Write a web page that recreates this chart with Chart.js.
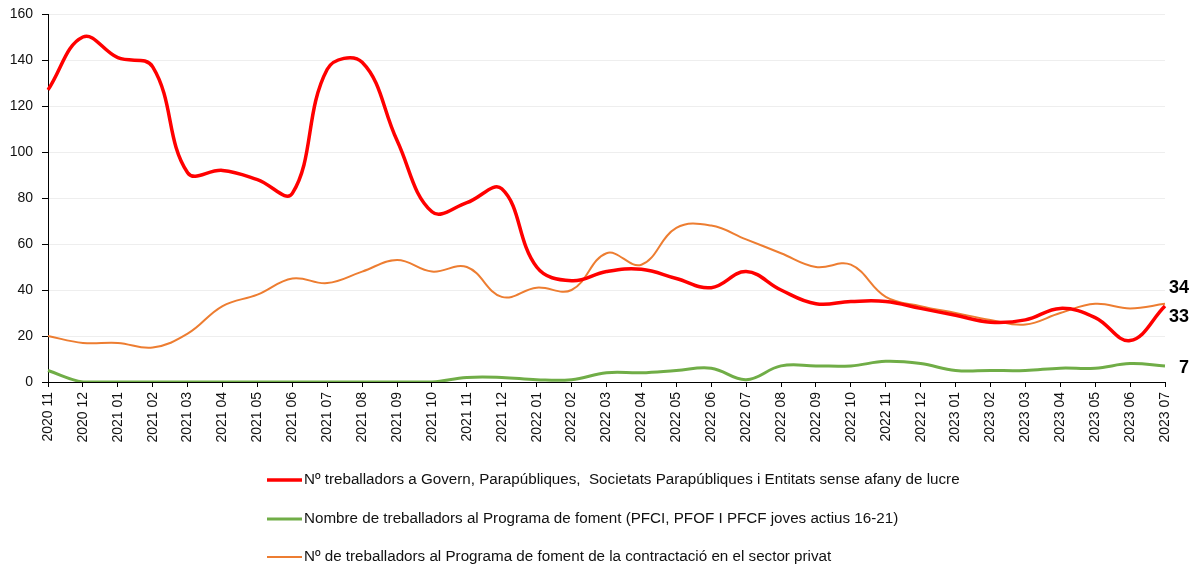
<!DOCTYPE html>
<html><head><meta charset="utf-8">
<script src="https://cdn.jsdelivr.net/npm/chart.js@4/dist/chart.umd.min.js"></script>
<style>html,body{margin:0;padding:0;background:#fff;}#wrap{width:1202px;height:567px;position:relative;}</style>
</head><body><div id="wrap"><canvas id="c" width="1202" height="567"></canvas></div>
<script>
const categories = ["2020 11","2020 12","2021 01","2021 02","2021 03","2021 04","2021 05","2021 06","2021 07","2021 08","2021 09","2021 10","2021 11","2021 12","2022 01","2022 02","2022 03","2022 04","2022 05","2022 06","2022 07","2022 08","2022 09","2022 10","2022 11","2022 12","2023 01","2023 02","2023 03","2023 04","2023 05","2023 06","2023 07"];
const govern = [127,150,141,137,91,92,88,82,136,139,105,74,78,84,50,44,48,49,45,41,48,40,34,35,35,32,29,26,27,32,28,18,33];
const joves = [5,0,0,0,0,0,0,0,0,0,0,0,2,2,1,1,4,4,5,6,1,7,7,7,9,8,5,5,5,6,6,8,7];
const privat = [20,17,17,15,21,33,38,45,43,48,53,48,50,37,41,40,56,51,67,68,62,56,50,51,37,33,30,27,25,30,34,32,34];
const seriesLabels = ["Nº treballadors a Govern, Parapúbliques,  Societats Parapúbliques i Entitats sense afany de lucre","Nombre de treballadors al Programa de foment (PFCI, PFOF I PFCF joves actius 16-21)","Nº de treballadors al Programa de foment de la contractació en el sector privat"];
const yTicks = [0,20,40,60,80,100,120,140,160];

const FONT = "'Liberation Sans', Arial, sans-serif";

const endLabels = {
  id:'endLabels',
  afterDatasetsDraw(chart){
    const ctx = chart.ctx;
    const offs = [11, 2, -16];
    ctx.save();
    ctx.font = "bold 18px " + FONT;
    ctx.fillStyle = "#000";
    ctx.textAlign = "right";
    ctx.textBaseline = "middle";
    chart.data.datasets.forEach((ds,i)=>{
      const meta = chart.getDatasetMeta(i);
      const pt = meta.data[meta.data.length-1];
      const v = ds.data[ds.data.length-1];
      ctx.fillText(String(v), pt.x + 24, pt.y + offs[i]);
    });
    ctx.restore();
  }
};

const customLegend = {
  id:'customLegend',
  afterDraw(chart){
    const ctx = chart.ctx;
    const ys = [480, 519, 557];
    ctx.save();
    ctx.font = "15.2px " + FONT;
    ctx.textBaseline = "middle";
    ctx.textAlign = "left";
    chart.data.datasets.forEach((ds,k)=>{
      ctx.strokeStyle = ds.borderColor;
      ctx.lineWidth = ds.borderWidth;
      ctx.beginPath();
      ctx.moveTo(267, ys[k]);
      ctx.lineTo(302, ys[k]);
      ctx.stroke();
      ctx.fillStyle = "#111";
      ctx.fillText(ds.label, 304, ys[k]);
    });
    ctx.restore();
  }
};

new Chart(document.getElementById('c'), {
  type:'line',
  data:{
    labels: categories,
    datasets:[
      {label: seriesLabels[0], data: govern, borderColor:'#ff0000', backgroundColor:'#ff0000', borderWidth:3.5, pointRadius:0, tension:0.4, order:1},
      {label: seriesLabels[1], data: joves, borderColor:'#70ad47', backgroundColor:'#70ad47', borderWidth:3, pointRadius:0, tension:0.4, order:3},
      {label: seriesLabels[2], data: privat, borderColor:'#ed7d31', backgroundColor:'#ed7d31', borderWidth:2, pointRadius:0, tension:0.4, order:2}
    ]
  },
  options:{
    responsive:false,
    animation:false,
    layout:{padding:{left:0, right:37, top:14, bottom:0}},
    plugins:{legend:{display:false}, tooltip:{enabled:false}},
    scales:{
      x:{
        offset:false,
        afterFit(scale){ scale.height = 185; scale.paddingLeft = 0; scale.paddingRight = 0; },
        border:{color:'#000', width:1},
        grid:{drawOnChartArea:false, drawTicks:true, tickLength:5, tickColor:'#000'},
        ticks:{color:'#111', font:{family:FONT, size:14}, minRotation:90, maxRotation:90, autoSkip:false, padding:5}
      },
      y:{
        min:0, max:160,
        afterFit(scale){ scale.width = 48; scale.paddingTop = 0; scale.paddingBottom = 0; },
        afterBuildTicks(scale){ scale.ticks = yTicks.map(v=>({value:v})); },
        border:{color:'#000', width:1},
        grid:{color:'#eeeeee', tickColor:'#000', tickLength:6},
        ticks:{color:'#111', font:{family:FONT, size:14}, padding:9}
      }
    }
  },
  plugins:[endLabels, customLegend]
});
</script>
</body></html>
